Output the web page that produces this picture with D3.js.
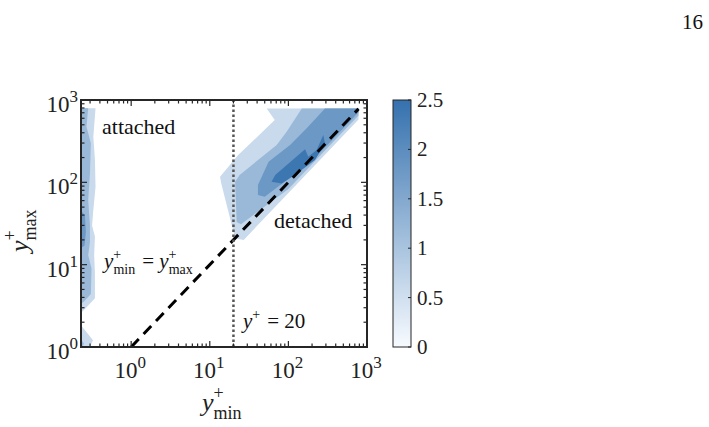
<!DOCTYPE html>
<html>
<head>
<meta charset="utf-8">
<script src="https://cdn.jsdelivr.net/npm/d3@7"></script>
<style>
  html, body { margin: 0; padding: 0; background: #fff; }
  svg { display: block; }
</style>
</head>
<body>
<div id="chart"></div>
<script>
// Livelli dei contorni (valore della densità)
const levels = [0.6, 1.2, 1.8, 2.4];

// Anelli per ciascun livello, coppie [y+min, y+max]
const rings06 = [
  [[0.23, 793], [0.352, 793], [0.33, 358], [0.346, 187], [0.352, 88], [0.33, 46], [0.318, 30], [0.346, 22], [0.338, 13], [0.346, 8], [0.346, 3.9], [0.258, 2.9], [0.23, 2.6]],
  [[0.23, 1.84], [0.327, 1.21], [0.297, 1.0], [0.23, 1.0]],
  [[53, 790], [67, 570], [23, 215], [13.5, 117], [14, 97], [21, 21], [27, 20], [100, 74], [300, 222], [780, 578], [780, 790]],
];
const rings12 = [
  [[0.23, 793], [0.284, 793], [0.27, 474], [0.307, 298], [0.299, 129], [0.284, 61], [0.299, 30], [0.299, 19], [0.284, 13], [0.313, 9], [0.307, 4.4], [0.246, 3.5], [0.23, 3.4]],
  [[0.23, 1.25], [0.25, 1.1], [0.24, 1.0], [0.23, 1.0]],
  [[148, 790], [95, 412], [71, 284], [24, 123], [21, 102], [22, 33], [25, 31], [100, 83], [400, 333], [780, 650], [780, 790]],
];
const rings18 = [
  [[0.23, 45], [0.258, 40], [0.265, 25], [0.255, 17], [0.23, 16]],
  [[292, 790], [171, 453], [105, 284], [56, 178], [41, 93], [41, 70], [50, 67], [200, 182], [500, 455], [780, 710], [780, 790]],
];
const rings24 = [
  [[61, 102], [68, 123], [163, 252], [179, 205], [229, 247], [278, 376], [292, 298], [218, 187], [121, 123], [82, 97]],
];

const diagonal = [[1, 1], [780, 780]];
const threshold = 20;

const xMajor = [1, 10, 100, 1000];
const yMajor = [1, 10, 100, 1000];
const cbTicks = [0, 0.5, 1, 1.5, 2, 2.5];
const cbLabels = ["0", "0.5", "1", "1.5", "2", "2.5"];

const contourLevels = [
  { level: levels[0], rings: rings06 },
  { level: levels[1], rings: rings12 },
  { level: levels[2], rings: rings18 },
  { level: levels[3], rings: rings24 },
];

const width = 709, height = 427;
const FONT = "'Liberation Serif', 'Times New Roman', serif";
const AX = "#262626";

const svg = d3.select("#chart").append("svg").attr("width", width).attr("height", height);

const x = d3.scaleLog().domain([0.23, 1000]).range([81, 367]);
const y = d3.scaleLog().domain([1, 1000]).range([347, 100]);
const color = d3.scaleLinear().domain([0, 2.5]).range(["#f7fbff", "#3571ae"]);

// Clip dell'area del grafico
svg.append("defs").append("clipPath").attr("id", "plot-clip")
  .append("rect").attr("x", 81).attr("y", 100).attr("width", 286).attr("height", 247);

const plot = svg.append("g").attr("clip-path", "url(#plot-clip)");

const ringLine = d3.line()
  .x((d) => x(d[0]))
  .y((d) => y(d[1]))
  .curve(d3.curveLinearClosed);

contourLevels.forEach((c) => {
  plot.selectAll(null)
    .data(c.rings)
    .join("path")
    .attr("d", ringLine)
    .attr("fill", color(c.level))
    .attr("stroke", "none");
});

// Linea tratteggiata y+min = y+max
plot.append("path")
  .attr("d", d3.line().x((d) => x(d[0])).y((d) => y(d[1]))(diagonal))
  .attr("stroke", "#000")
  .attr("stroke-width", 3)
  .attr("stroke-dasharray", "11,7")
  .attr("fill", "none");

// Linea punteggiata y+ = 20
plot.append("line")
  .attr("x1", x(threshold)).attr("x2", x(threshold))
  .attr("y1", y(1)).attr("y2", y(1000))
  .attr("stroke", "#555")
  .attr("stroke-width", 2.5)
  .attr("stroke-dasharray", "2.5,2.5");

// Tick minori e maggiori (interni, su tutti i lati)
function logTicks(lo, hi) {
  const out = [];
  for (let e = -1; e <= 3; e++) {
    for (let m = 1; m <= 9; m++) {
      const v = m * Math.pow(10, e);
      if (v >= lo && v <= hi * 1.0001) out.push({ v, major: m === 1 });
    }
  }
  return out;
}
const axes = svg.append("g").attr("stroke", AX).attr("stroke-width", 1.2);
logTicks(0.23, 1000).forEach((t) => {
  const len = t.major ? 6 : 3.5;
  const px = x(t.v);
  axes.append("line").attr("x1", px).attr("x2", px).attr("y1", 347).attr("y2", 347 - len);
  axes.append("line").attr("x1", px).attr("x2", px).attr("y1", 100).attr("y2", 100 + len);
});
logTicks(1, 1000).forEach((t) => {
  const len = t.major ? 6 : 3.5;
  const py = y(t.v);
  axes.append("line").attr("x1", 81).attr("x2", 81 + len).attr("y1", py).attr("y2", py);
  axes.append("line").attr("x1", 367).attr("x2", 367 - len).attr("y1", py).attr("y2", py);
});

svg.append("rect")
  .attr("x", 81).attr("y", 100).attr("width", 286).attr("height", 247)
  .attr("fill", "none").attr("stroke", AX).attr("stroke-width", 2);

// Etichette dei tick: 10^n
function powLabel(sel, exp) {
  sel.append("tspan").text("10");
  sel.append("tspan").attr("font-size", 17).attr("dy", -10).text(exp);
}
xMajor.forEach((v) => {
  const t = svg.append("text")
    .attr("x", x(v) - 1).attr("y", 378)
    .attr("text-anchor", "middle")
    .attr("font-family", FONT).attr("font-size", 23).attr("fill", "#222");
  powLabel(t, Math.round(Math.log10(v)));
});
yMajor.forEach((v) => {
  const t = svg.append("text")
    .attr("x", 78).attr("y", y(v) + 12)
    .attr("text-anchor", "end")
    .attr("font-family", FONT).attr("font-size", 23).attr("fill", "#222");
  powLabel(t, Math.round(Math.log10(v)));
});

// y^+ con pedice
function yPlus(sel, sub, size, supSize) {
  sel.append("tspan").attr("font-style", "italic").text("y");
  sel.append("tspan").attr("font-size", supSize).attr("dy", -size * 0.45).text("+");
  if (sub) {
    sel.append("tspan").attr("font-size", supSize)
      .attr("dx", -supSize * 0.56).attr("dy", size * 0.75).text(sub);
    sel.append("tspan").attr("font-size", size).attr("dy", -size * 0.3).text("\u200a");
  } else {
    sel.append("tspan").attr("font-size", size).attr("dy", size * 0.45).text("\u200a");
  }
}

// Titoli degli assi
const xTitle = svg.append("text")
  .attr("x", 202).attr("y", 411)
  .attr("font-family", FONT).attr("font-size", 26).attr("fill", "#222");
yPlus(xTitle, "min", 26, 18);

const yTitle = svg.append("text")
  .attr("transform", "translate(28,252) rotate(-90)")
  .attr("font-family", FONT).attr("font-size", 26).attr("fill", "#222");
yPlus(yTitle, "max", 26, 18);

// Annotazioni
svg.append("text").attr("x", 102).attr("y", 134)
  .attr("font-family", FONT).attr("font-size", 22).attr("fill", "#111").text("attached");
svg.append("text").attr("x", 274).attr("y", 228)
  .attr("font-family", FONT).attr("font-size", 22).attr("fill", "#111").text("detached");

const eq = svg.append("text").attr("x", 104).attr("y", 268)
  .attr("font-family", FONT).attr("font-size", 21).attr("fill", "#111");
yPlus(eq, "min", 21, 14);
eq.append("tspan").text(" = ");
yPlus(eq, "max", 21, 14);

const thr = svg.append("text").attr("x", 243).attr("y", 328)
  .attr("font-family", FONT).attr("font-size", 21).attr("fill", "#111");
yPlus(thr, null, 21, 14);
thr.append("tspan").text(" = " + threshold);

// Barra dei colori
const cb = d3.scaleLinear().domain([0, 2.5]).range([347, 100]);
const grad = svg.select("defs").append("linearGradient")
  .attr("id", "cb-grad").attr("x1", 0).attr("x2", 0).attr("y1", 1).attr("y2", 0);
d3.range(0, 1.0001, 0.1).forEach((t) => {
  grad.append("stop").attr("offset", t).attr("stop-color", color(t * 2.5));
});
svg.append("rect")
  .attr("x", 393).attr("y", cb(2.5)).attr("width", 18).attr("height", cb(0) - cb(2.5))
  .attr("fill", "url(#cb-grad)").attr("stroke", AX).attr("stroke-width", 1);
cbTicks.forEach((v, i) => {
  svg.append("line")
    .attr("x1", 411).attr("x2", 408).attr("y1", cb(v)).attr("y2", cb(v))
    .attr("stroke", AX).attr("stroke-width", 1);
  svg.append("text")
    .attr("x", 417).attr("y", cb(v) + 7)
    .attr("font-family", FONT).attr("font-size", 21).attr("fill", "#222")
    .text(cbLabels[i]);
});

// Numero di pagina
svg.append("text").attr("x", 703).attr("y", 29).attr("text-anchor", "end")
  .attr("font-family", FONT).attr("font-size", 21).attr("fill", "#111").text("16");
</script>
</body>
</html>
